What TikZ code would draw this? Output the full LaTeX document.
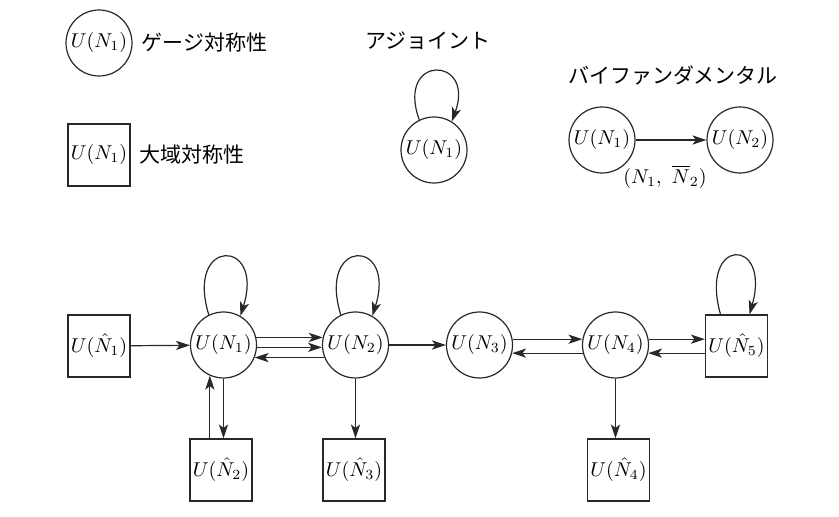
\documentclass[tikz,border=0pt]{standalone}
\usepackage{fontspec}
\newfontfamily\jp{Noto Sans CJK JP}
\usetikzlibrary{arrows.meta,calc}
\begin{document}
\begin{tikzpicture}[x=0.5pt,y=-0.5pt,
  line width=0.6pt, draw={rgb,255:red,40;green,40;blue,40},
  gauge/.style={circle,draw,minimum size=33pt,inner sep=0pt},
  flav/.style={rectangle,draw,minimum size=31pt,inner sep=0pt},
  lbl/.style={font=\jp\fontsize{10.5pt}{12pt}\selectfont,inner sep=0pt},
  arr/.style={-{Stealth[length=7pt,width=4.6pt,inset=1.8pt]}}]
\useasboundingbox (0,0) rectangle (839,517);
% legend
\node[gauge] (lg) at (99,43) {$U(N_1)$};
\node[lbl,anchor=west] (lgt) at (141,43) {ゲージ対称性};
\node[flav] (lf) at (99,155) {$U(N_1)$};
\node[lbl,anchor=west] (lft) at (139,155) {大域対称性};
\node[lbl] (adjt) at (428,41) {アジョイント};
\node[gauge] (adj) at (434,150) {$U(N_1)$};
\draw[arr] (adj.116) .. controls +(-24,-66) and +(24,-66) .. (adj.58);
\node[lbl] (bift) at (673,75) {バイファンダメンタル};
\node[gauge] (b1) at (602,140) {$U(N_1)$};
\node[gauge] (b2) at (740,140) {$U(N_2)$};
\draw[arr] (b1) -- (b2);
\node (bl) at (665,177) {$(N_1,\ \overline{N}_2)$};
% quiver
\node[flav] (f1) at (99,346) {$U(\hat{N}_1)$};
\node[gauge] (n1) at (223.5,345) {$U(N_1)$};
\node[gauge] (n2) at (355.5,345) {$U(N_2)$};
\node[gauge] (n3) at (479.5,345) {$U(N_3)$};
\node[gauge] (n4) at (615.5,345) {$U(N_4)$};
\node[flav] (f5) at (736.5,346) {$U(\hat{N}_5)$};
\node[flav] (f2) at (221,470) {$U(\hat{N}_2)$};
\node[flav] (f3) at (354,470) {$U(\hat{N}_3)$};
\node[flav] (f4) at (618.5,470) {$U(\hat{N}_4)$};
% loops
\draw[arr] (n1.116) .. controls +(-24,-78) and +(25,-78) .. (n1.60);
\draw[arr] (n2.116) .. controls +(-24,-78) and +(25,-78) .. (n2.60);
\draw[arr] ([xshift=-8pt]f5.north) .. controls +(-22,-78) and +(22,-78) .. ([xshift=6.5pt]f5.north);
% horizontal
\draw[arr] (f1) -- (n1);
\draw[arr] (n1.13) -- (n2.167);
\draw[arr] (n1.-4) -- (n2.184);
\draw[arr] (n2.202) -- (n1.-22);
\draw[arr] (n2) -- (n3);
\draw[arr] (n3.10) -- (n4.170);
\draw[arr] (n4.194) -- (n3.-14);
\draw[arr] (n4.10) -- (n4.10 -| f5.west);
\draw[arr] (f5.west |- n4.-14) -- (n4.-14);
% vertical
\draw[arr] (n1.south) -- (n1.south |- f2.north);
\draw[arr] (n1.246 |- f2.north) -- (n1.246);
\draw[arr] (n2.south) -- (n2.south |- f3.north);
\draw[arr] (n4.south) -- (n4.south |- f4.north);
\end{tikzpicture}
\end{document}
